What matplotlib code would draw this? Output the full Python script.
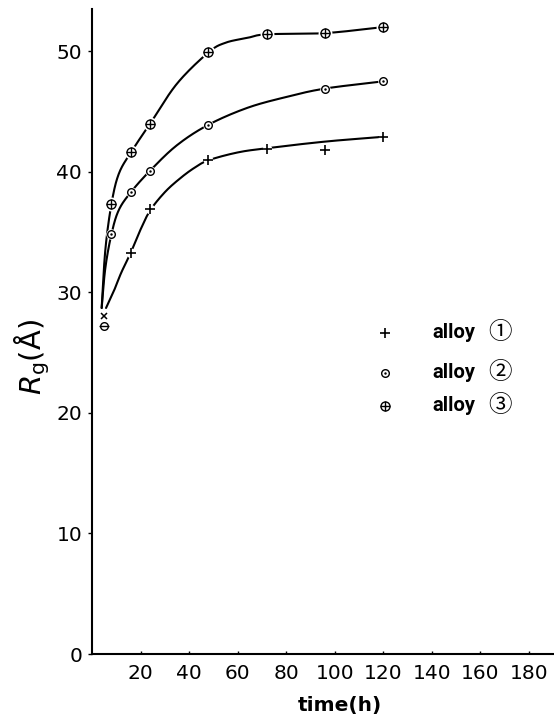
import numpy as np
import matplotlib
matplotlib.use("Agg")
import matplotlib.pyplot as plt

plt.rcParams["mathtext.fontset"] = "dejavusans"

# measured radius of gyration (Å) versus ageing time (h)
t_alloy1 = [16, 24, 48, 72, 96, 120]
rg_alloy1 = [33.3, 36.9, 41.0, 41.9, 41.8, 42.9]
t_alloy2 = [8, 16, 24, 48, 96, 120]
rg_alloy2 = [34.8, 38.3, 40.1, 43.9, 46.9, 47.5]
t_alloy3 = [8, 16, 24, 48, 72, 96, 120]
rg_alloy3 = [37.3, 41.6, 44.0, 49.9, 51.4, 51.5, 52.0]

# early-time points
t_start1, rg_start1 = [5], [28.0]
t_start2, rg_start2 = [5], [27.2]

# hand-drawn trend curves (traced nodes)
curve1_t = [5.8, 9, 12, 16, 20, 24, 30, 36, 42, 48, 60, 72, 96, 120]
curve1_rg = [28.7, 30.1, 31.6, 33.3, 35.2, 36.8, 38.3, 39.4, 40.3, 40.95, 41.6, 41.95, 42.5, 42.9]
curve2_t = [4, 5.5, 8, 11, 16, 24, 35, 48, 64, 80, 96, 120]
curve2_rg = [28.7, 32.0, 34.8, 36.8, 38.3, 40.1, 42.2, 43.9, 45.3, 46.2, 46.9, 47.5]
curve3_t = [4, 5.5, 8, 11, 16, 24, 35, 48, 55, 64, 72, 96, 120]
curve3_rg = [28.7, 33.5, 37.3, 39.8, 41.6, 44.0, 47.3, 49.9, 50.7, 51.1, 51.4, 51.5, 52.0]

xticks = [20, 40, 60, 80, 100, 120, 140, 160, 180]
yticks = [0, 10, 20, 30, 40, 50]


def catmull_rom(xs, ys, n=24):
    """Smooth Catmull-Rom path through the given nodes."""
    p = np.column_stack([xs, ys]).astype(float)
    p = np.vstack([2 * p[0] - p[1], p, 2 * p[-1] - p[-2]])
    s = np.linspace(0, 1, n, endpoint=False)[:, None]
    out = []
    for i in range(1, len(p) - 2):
        p0, p1, p2, p3 = p[i - 1], p[i], p[i + 1], p[i + 2]
        seg = 0.5 * ((2 * p1) + (-p0 + p2) * s + (2 * p0 - 5 * p1 + 4 * p2 - p3) * s ** 2
                     + (-p0 + 3 * p1 - 3 * p2 + p3) * s ** 3)
        out.append(seg)
    out.append(p[-2][None, :])
    out = np.vstack(out)
    return out[:, 0], out[:, 1]


fig = plt.figure(figsize=(5.54, 7.19), dpi=100)
ax = fig.add_axes([0.166, 0.0904, 0.8325, 0.8971])

for ct, cr in [(curve1_t, curve1_rg), (curve2_t, curve2_rg), (curve3_t, curve3_rg)]:
    cx, cy = catmull_rom(ct, cr)
    ax.plot(cx, cy, color="black", lw=1.5, solid_capstyle="round", zorder=2)

mew = 1.0
# white gaps around the points
ax.plot(t_alloy1, rg_alloy1, "o", ms=7, color="white", mec="none", zorder=3)
ax.plot(t_alloy2, rg_alloy2, "o", ms=7.5, color="white", mec="none", zorder=3)
ax.plot(t_alloy3, rg_alloy3, "o", ms=10, color="white", mec="none", zorder=3)

# alloy 1: plus
ax.plot(t_alloy1, rg_alloy1, "+", ms=6.5, mew=1.2, color="black", zorder=4)
ax.plot(t_start1, rg_start1, "x", ms=4, mew=1.1, color="black", zorder=4)
# alloy 2: dotted circle
ax.plot(t_alloy2, rg_alloy2, "o", ms=5.5, mfc="white", mec="black", mew=mew, zorder=4)
ax.plot(t_alloy2, rg_alloy2, ".", ms=1.5, color="black", zorder=5)
ax.plot(t_start2, rg_start2, "o", ms=5.5, mfc="white", mec="black", mew=mew, zorder=4)
ax.plot(t_start2, rg_start2, "_", ms=7, mew=1.0, color="black", zorder=5)
# alloy 3: crossed circle
ax.plot(t_alloy3, rg_alloy3, "o", ms=6.5, mfc="white", mec="black", mew=mew, zorder=4)
ax.plot(t_alloy3, rg_alloy3, "+", ms=6.5, mew=mew, color="black", zorder=5)

# key
tr = ax.transAxes
kx, lx, nx = 0.636, 0.785, 0.885
rows = [0.498, 0.436, 0.385]
ax.plot([kx], [rows[0]], "+", ms=6.5, mew=1.2, color="black", transform=tr)
ax.plot([kx], [rows[1]], "o", ms=5.5, mfc="white", mec="black", mew=mew, transform=tr)
ax.plot([kx], [rows[1]], ".", ms=1.5, color="black", transform=tr)
ax.plot([kx], [rows[2]], "o", ms=6.5, mfc="white", mec="black", mew=mew, transform=tr)
ax.plot([kx], [rows[2]], "+", ms=6.5, mew=mew, color="black", transform=tr)
for y, num in zip(rows, ["①", "②", "③"]):
    ax.text(lx, y, "alloy", transform=tr, ha="center", va="center", fontsize=14.5,
            fontweight="bold", fontstretch="condensed", family=["Roboto", "DejaVu Sans"])
    ax.text(nx, y, num, transform=tr, ha="center", va="center", fontsize=17,
            family=["Noto Sans CJK JP", "DejaVu Sans"])

ax.set_xlim(0, 190)
ax.set_ylim(0, 53.5)
ax.set_xticks(xticks)
ax.set_yticks(yticks)
ax.tick_params(axis="x", direction="in", length=2, width=1, pad=7, labelsize=14.5)
ax.tick_params(axis="y", direction="out", length=3, width=1, pad=4, labelsize=14.5)
for side in ["top", "right"]:
    ax.spines[side].set_visible(False)
for side in ["left", "bottom"]:
    ax.spines[side].set_linewidth(1.5)

fig.text(0.058, 0.503, r"$R_{\mathrm{g}}$(Å)", rotation=90, ha="center", va="center",
         fontsize=21)
fig.text(0.614, 0.019, "time(h)", ha="center", va="center", fontsize=14.5,
         fontweight="bold")

fig.savefig("out.png", dpi=100, facecolor="white")
